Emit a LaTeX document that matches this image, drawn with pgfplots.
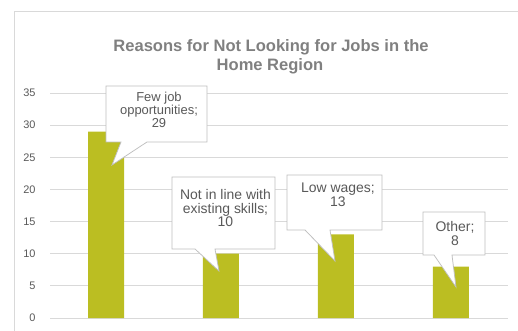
\documentclass[border=0pt]{standalone}
\usepackage{fontspec}
\setmainfont{Liberation Sans}
\usepackage{pgfplots}
\pgfplotsset{compat=1.18}
\definecolor{barcol}{RGB}{187,190,34}
\definecolor{gridcol}{RGB}{217,217,217}
\definecolor{txtcol}{RGB}{89,89,89}
\definecolor{titlecol}{RGB}{128,128,128}
\definecolor{boxcol}{RGB}{191,191,191}
\begin{document}
\begin{tikzpicture}
\useasboundingbox (0,0) rectangle (518bp,331bp);
\begin{axis}[
  at={(50bp,13bp)}, anchor=south west,
  scale only axis, width=458bp, height=225bp,
  xmin=-0.487, xmax=3.496, ymin=0, ymax=35,
  ytick={0,5,...,35}, xtick=\empty,
  axis line style={draw=none}, major tick length=0,
  ymajorgrids, grid style={gridcol, line width=0.75bp},
  yticklabel style={font=\fontsize{11}{13}\selectfont, text=txtcol, xshift=-11bp},
  /pgf/number format/assume math mode=true,
  clip=false,
]
\draw[gridcol, line width=0.75bp] (axis cs:-0.487,0) -- (axis cs:3.496,0);
\addplot[ybar, bar width=36bp, fill=barcol, draw=none] coordinates {(0,29) (1,10) (2,13) (3,8)};
\end{axis}
% chart frame
\draw[gridcol, line width=0.75bp] (14bp,0) -- (14bp,320bp) -- (518bp,320bp);
\begin{scope}[x=1bp, y=-1bp, shift={(0bp,331bp)}]
% title
\node[anchor=base, text=titlecol, font=\fontsize{16.6}{19}\selectfont\bfseries] at (271,52) {Reasons for Not Looking for Jobs in the};
\node[anchor=base, text=titlecol, font=\fontsize{16.6}{19}\selectfont\bfseries] at (270,71) {Home Region};
% callouts
\tikzset{co/.style={fill=white, draw=boxcol, line width=0.75bp, line join=miter}}
\draw[co] (106,86) -- (207,86) -- (207,142) -- (147,142) -- (112,165) -- (121,142) -- (106,142) -- cycle;
\begin{scope}[every node/.style={anchor=base, text=txtcol, font=\fontsize{13}{13}\selectfont, inner sep=0}]
\node at (159,102) {Few job};
\node at (159,115) {opportunities;};
\node at (159,128) {29};
\end{scope}
\draw[co] (172,177) -- (275,177) -- (275,249) -- (215,249) -- (219,271) -- (195,249) -- (172,249) -- cycle;
\draw[co] (287,175) -- (382,175) -- (382,230) -- (330,230) -- (335,261) -- (305,230) -- (287,230) -- cycle;
\draw[co] (423,212) -- (485,212) -- (485,255) -- (452,255) -- (456,287) -- (434,255) -- (423,255) -- cycle;
\begin{scope}[every node/.style={anchor=base, text=txtcol, font=\fontsize{14}{14}\selectfont, inner sep=0}]
\node at (225.5,200) {Not in line with};
\node at (225.5,213.5) {existing skills;};
\node at (225.5,227) {10};
\node at (338,193) {Low wages;};
\node at (338,207) {13};
\node at (455,232) {Other;};
\node at (455,246) {8};
\end{scope}
\end{scope}
\end{tikzpicture}
\end{document}
